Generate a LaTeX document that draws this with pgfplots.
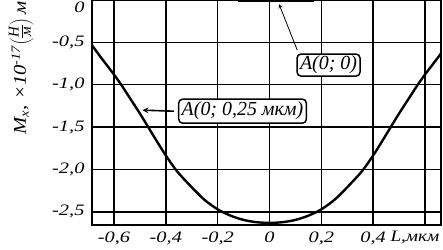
\documentclass[border=0pt]{standalone}
\usepackage{fontspec}
\setmainfont{Liberation Serif}
\usepackage{graphicx}
\usepackage{pgfplots}
\pgfplotsset{compat=1.18}
\newcommand\tl[1]{\scalebox{1.28}[1]{#1}}
\begin{document}
\begin{tikzpicture}
\begin{axis}[
  at={(0,0)}, anchor=south west,
  scale only axis, width=349bp, height=225bp,
  xmin=-0.685, xmax=0.662, ymin=-2.655, ymax=0,
  axis line style={line width=1.6bp},
  grid=major, grid style={black, line width=1.4bp},
  xtick={-0.6,-0.4,-0.2,0,0.2,0.4},
  xticklabels={\tl{-0,6},\tl{-0,4},\tl{-0,2},\tl{0},\tl{0,2},\tl{0,4}},
  extra x ticks={0.6}, extra x tick labels={\scalebox{1.2}[1]{L,мкм}},
  extra x tick style={grid=major, xticklabel style={xshift=-10bp}},
  ytick={-2.5,-2,-1.5,-1,-0.5},
  yticklabels={\tl{-2,5},\tl{-2,0},\tl{-1,5},\tl{-1,0},\tl{-0,5}},
  extra y ticks={0}, extra y tick labels={\tl{0}},
  extra y tick style={grid=major, yticklabel style={yshift=-7bp}},
  tick style={draw=none},
  ticklabel style={font=\fontsize{16}{18}\selectfont\itshape},
  yticklabel style={xshift=-4bp},
  xticklabel style={yshift=-3bp},
  clip=true,
]
\addplot[black, line width=2.4bp, smooth] coordinates {
(-0.70,-0.47) (-0.686,-0.53) (-0.65,-0.68) (-0.6,-0.88) (-0.57,-1.01) (-0.535,-1.175) (-0.5,-1.34)
(-0.46,-1.54) (-0.43,-1.69) (-0.4,-1.835) (-0.357,-2.02) (-0.3,-2.21) (-0.25,-2.36)
(-0.2,-2.47) (-0.15,-2.545) (-0.1,-2.595) (-0.05,-2.622) (0,-2.63)
(0.05,-2.622) (0.1,-2.595) (0.15,-2.545) (0.2,-2.47) (0.25,-2.36) (0.3,-2.21)
(0.357,-2.02) (0.4,-1.835) (0.43,-1.69) (0.46,-1.54) (0.5,-1.34) (0.535,-1.175) (0.57,-1.01)
(0.6,-0.88) (0.65,-0.68) (0.686,-0.53)
};
\addplot[black, line width=5bp] coordinates {(-0.12,0) (0.17,0)};
\draw[-stealth, line width=0.8bp] (axis cs:0.107,-0.59) -- (axis cs:0.037,-0.05);
\draw[-stealth, line width=1.6bp] (axis cs:-0.368,-1.312) -- (axis cs:-0.49,-1.30);
\node[draw, rounded corners=4bp, line width=1.5bp, fill=white, inner xsep=3bp, inner ysep=2bp,
  font=\fontsize{20}{22}\selectfont\itshape] at (axis cs:0.228,-0.768) {A(0; 0)};
\node[draw, rounded corners=4bp, line width=1.5bp, fill=white, inner xsep=3bp, inner ysep=3bp,
  font=\fontsize{20}{22}\selectfont\itshape] at (axis cs:-0.104,-1.312) {A(0; 0,25 мкм)};
\end{axis}
\node[rotate=90, anchor=base, font=\fontsize{18}{20}\selectfont\itshape, inner sep=0pt] at (-66bp,157bp)
  {\scalebox{1.15}[1]{M\textsubscript{x}, ×10\textsuperscript{-17}}$\left(\vcenter{\hbox{\fontsize{15}{14}\selectfont\itshape\renewcommand\arraystretch{0.85}\setlength\tabcolsep{1pt}\begin{tabular}{c}Н\\\hline м\end{tabular}}}\right)$\,\scalebox{1.15}[1]{м}};
\pgfresetboundingbox
\path (-92bp,-25bp) rectangle (351bp,225bp);
\end{tikzpicture}
\end{document}
